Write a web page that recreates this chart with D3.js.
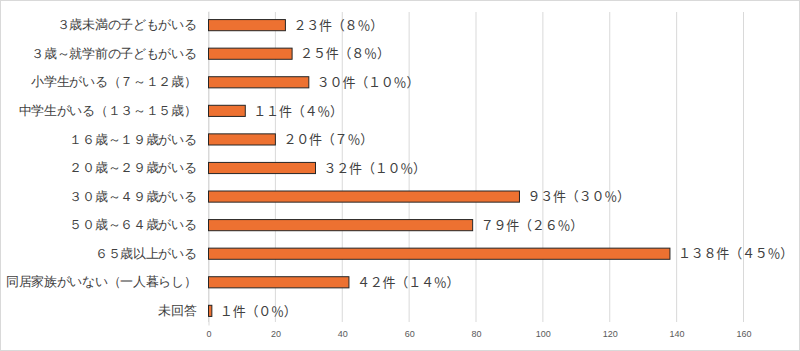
<!DOCTYPE html>
<html>
<head>
<meta charset="utf-8">
<script src="https://cdn.jsdelivr.net/npm/d3@7"></script>
<style>
  body { margin: 0; background: #fff; }
  svg { display: block; font-family: "Noto Sans CJK JP", sans-serif; }
</style>
</head>
<body>
<div id="chart"></div>
<script>
// categories (top to bottom)
var categories = ['３歳未満の子どもがいる', '３歳～就学前の子どもがいる', '小学生がいる（７～１２歳）',
  '中学生がいる（１３～１５歳）', '１６歳～１９歳がいる', '２０歳～２９歳がいる', '３０歳～４９歳がいる',
  '５０歳～６４歳がいる', '６５歳以上がいる', '同居家族がいない（一人暮らし）', '未回答'];
var counts = [23, 25, 30, 11, 20, 32, 93, 79, 138, 42, 1];
var valueLabels = ['２３件（８％）', '２５件（８％）', '３０件（１０％）', '１１件（４％）', '２０件（７％）',
  '３２件（１０％）', '９３件（３０％）', '７９件（２６％）', '１３８件（４５％）', '４２件（１４％）', '１件（０％）'];
var xTicks = [0, 20, 40, 60, 80, 100, 120, 140, 160];

var W = 800, H = 351;

var svg = d3.select("#chart")
    .append("svg")
    .attr("width", W)
    .attr("height", H);

// outer border
svg.append("rect")
    .attr("x", 0.5).attr("y", 0.5)
    .attr("width", W - 1).attr("height", H - 1)
    .attr("fill", "#fff")
    .attr("stroke", "#d9d9d9");

var x = d3.scaleLinear()
    .domain([0, 160])
    .range([208.5, 743.5]);

var y = d3.scaleBand()
    .domain(categories)
    .range([11, 325])
    .paddingInner(0.61)
    .paddingOuter(0.3);

// vertical gridlines
svg.append("g")
    .selectAll("line")
    .data(xTicks)
    .enter()
    .append("line")
    .attr("x1", function(d) { return x(d); })
    .attr("x2", function(d) { return x(d); })
    .attr("y1", 12)
    .attr("y2", 322)
    .attr("stroke", "#d9d9d9")
    .attr("stroke-width", 1);

// x axis labels
var xAxis = svg.append("g")
    .attr("transform", "translate(0,322)")
    .call(d3.axisBottom(x).tickValues(xTicks).tickSize(0).tickPadding(9));
xAxis.select(".domain").remove();
xAxis.selectAll("text")
    .attr("fill", "#595959")
    .style("font-size", "9px")
    .style("font-family", "'Liberation Sans', sans-serif");

// y axis (category labels)
var yAxis = svg.append("g")
    .attr("transform", "translate(" + x(0) + ",0)")
    .call(d3.axisLeft(y).tickSize(0).tickPadding(12));
yAxis.select(".domain")
    .attr("stroke", "#d9d9d9");
yAxis.selectAll("text")
    .attr("fill", "#404040")
    .style("font-size", "13px")
    .style("letter-spacing", "-0.3px");

// bars
svg.selectAll("rect.bar")
    .data(counts)
    .enter()
    .append("rect")
    .attr("class", "bar")
    .attr("x", x(0))
    .attr("y", function(d, i) { return y(categories[i]); })
    .attr("width", function(d) { return x(d) - x(0); })
    .attr("height", y.bandwidth())
    .attr("fill", "#ed7131")
    .attr("stroke", "#262626")
    .attr("stroke-width", 1);

// value labels
svg.selectAll("text.val")
    .data(counts)
    .enter()
    .append("text")
    .attr("class", "val")
    .attr("x", function(d) { return x(d) + 8; })
    .attr("y", function(d, i) { return y(categories[i]) + y.bandwidth() / 2; })
    .attr("dy", "0.36em")
    .attr("fill", "#404040")
    .style("font-size", "13px")
    .style("letter-spacing", "-0.2px")
    .text(function(d, i) { return valueLabels[i]; });
</script>
</body>
</html>
